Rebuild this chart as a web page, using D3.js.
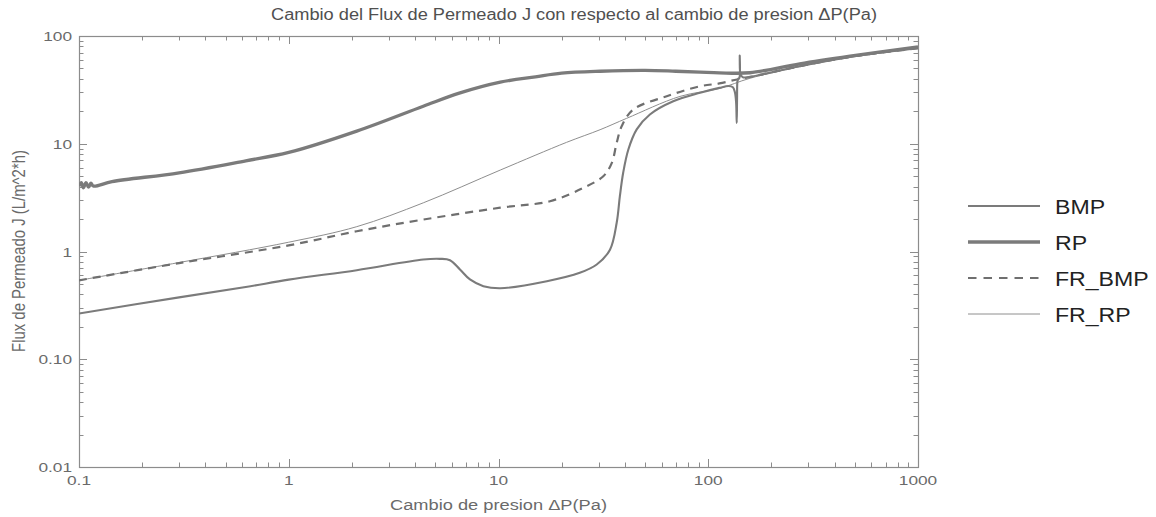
<!DOCTYPE html>
<html><head><meta charset="utf-8">
<script src="https://cdnjs.cloudflare.com/ajax/libs/d3/7.8.5/d3.min.js"></script>
<style>body{margin:0;background:#fff}svg{display:block}text{font-family:"Liberation Sans",Arial,sans-serif}</style>
</head><body>
<script>
// ---------- data ----------
const BMP = [[0.1,0.266],[0.3,0.375],[0.624,0.468],[1.0,0.548],[2.11,0.671],[4.38,0.843],[5.26,0.855],[5.87,0.83],[6.55,0.681],[7.31,0.55],[8.47,0.477],[10.2,0.456],[17.0,0.53],[24.4,0.634],[29.4,0.757],[34.0,1.04],[36.6,1.85],[37.9,3.26],[39.3,5.38],[41.6,8.85],[45.6,13.6],[52.7,18.7],[68.1,24.8],[91.4,29.7],[113,33.0],[125,34.3],[131,33.5],[134,30],[135.8,24],[136.7,15.6],[137.2,26],[137.8,38],[139,40],[140.8,41],[141.3,66],[141.8,47],[143.5,43],[147,41.3],[158,41.8],[273,52.4],[474,64],[1000,77]];
const RP = [[0.1,4.05],[0.1025,4.35],[0.105,3.9],[0.108,4.35],[0.111,3.95],[0.114,4.3],[0.117,4.05],[0.1436,4.45],[0.3,5.38],[0.624,6.95],[1.0,8.3],[2.11,13.1],[4.38,22.3],[6.5,29.5],[10.2,37.3],[15,41.8],[20,45.2],[30.5,47.1],[50,48.0],[70,47.1],[91.4,46.2],[113,45.5],[158,45.6],[273,55.2],[474,65],[1000,79.4]];
const FR_BMP = [[0.1,0.54],[0.3,0.78],[1.0,1.14],[2.11,1.54],[4.38,1.98],[10.2,2.55],[17.6,2.93],[25.4,3.9],[31.6,5.0],[34.7,6.65],[36.6,10.2],[38.7,14.6],[43.9,20.8],[63.4,27.6],[91.4,34.2],[113,36.3],[137,39.5],[158,41.6],[273,52.4],[474,64],[1000,77]];
const FR_RP = [[0.1,0.54],[0.3,0.79],[1.0,1.22],[2.11,1.7],[4.38,2.83],[10.2,5.7],[21.1,10.3],[30.5,13.5],[40.8,17.2],[73.3,27.5],[113,32.6],[158,40.5],[273,52],[474,63.5],[1000,77]];
const seriesNames = ["BMP","RP","FR_BMP","FR_RP"];
const xTickValues = [0.1,1,10,100,1000];
const xTickLabels = ["0.1","1","10","100","1000"];
const yTickValues = [0.01,0.1,1,10,100];
const yTickLabels = ["0.01","0.10","1","10","100"];
const titleText = "Cambio del Flux de Permeado J con respecto al cambio de presion \u0394P(Pa)";
const xLabelText = "Cambio de presion \u0394P(Pa)";
const yLabelText = "Flux de Permeado J (L/m^2*h)";

// ---------- layout ----------
const W = 1156, H = 517;
const L = 79, R = 918, T = 36, B = 467;
const svg = d3.select("body").append("svg").attr("width", W).attr("height", H);
const x = d3.scaleLog().domain([0.1, 1000]).range([L, R]);
const y = d3.scaleLog().domain([0.01, 100]).range([B, T]);

const frameColor = "#8c8c8c";
const g = svg.append("g");

function minors(domain) {
  const out = [];
  for (let d = domain[0]; d < domain[1] * 0.999; d *= 10) for (let k = 2; k <= 9; k++) out.push(d * k);
  return out;
}
const xMinor = minors([0.1, 1000]), yMinor = minors([0.01, 100]);
const tickG = g.append("g").attr("stroke", frameColor).attr("stroke-width", 1);
xTickValues.forEach(v => {
  const px = Math.round(x(v)) + 0.5;
  tickG.append("line").attr("x1", px).attr("x2", px).attr("y1", B).attr("y2", B - 8);
  tickG.append("line").attr("x1", px).attr("x2", px).attr("y1", T).attr("y2", T + 8);
});
xMinor.forEach(v => {
  const px = Math.round(x(v)) + 0.5;
  tickG.append("line").attr("x1", px).attr("x2", px).attr("y1", B).attr("y2", B - 4.5);
  tickG.append("line").attr("x1", px).attr("x2", px).attr("y1", T).attr("y2", T + 4.5);
});
yTickValues.forEach(v => {
  const py = Math.round(y(v)) + 0.5;
  tickG.append("line").attr("x1", L).attr("x2", L + 8).attr("y1", py).attr("y2", py);
  tickG.append("line").attr("x1", R).attr("x2", R - 8).attr("y1", py).attr("y2", py);
});
yMinor.forEach(v => {
  const py = Math.round(y(v)) + 0.5;
  tickG.append("line").attr("x1", L).attr("x2", L + 4.5).attr("y1", py).attr("y2", py);
  tickG.append("line").attr("x1", R).attr("x2", R - 4.5).attr("y1", py).attr("y2", py);
});
g.append("rect").attr("x", L + 0.5).attr("y", T + 0.5).attr("width", R - L).attr("height", B - T)
  .attr("fill", "none").attr("stroke", frameColor).attr("stroke-width", 1.2);

const SX = 1.28;
function htext(px, py, str, size, anchor, fill) {
  return svg.append("text").attr("transform", `translate(${px},${py}) scale(${SX},1)`)
    .attr("text-anchor", anchor).attr("font-size", size).attr("fill", fill).text(str);
}
xTickValues.forEach((v, i) => htext(x(v), 485, xTickLabels[i], 13.5, "middle", "#6a6a6a"));
yTickValues.forEach((v, i) => htext(72, y(v) + 5, yTickLabels[i], 13.5, "end", "#6a6a6a"));

svg.append("text").attr("x", 271).attr("y", 19.5).attr("font-size", 16).attr("fill", "#505050")
  .attr("textLength", 606).attr("lengthAdjust", "spacingAndGlyphs").text(titleText);
svg.append("text").attr("x", 390).attr("y", 509.5).attr("font-size", 14).attr("fill", "#6a6a6a")
  .attr("textLength", 217).attr("lengthAdjust", "spacingAndGlyphs").text(xLabelText);
svg.append("text").attr("transform", "translate(25,251) rotate(-90) scale(1,1.25)")
  .attr("text-anchor", "middle").attr("font-size", 14).attr("fill", "#6a6a6a")
  .attr("textLength", 202).attr("lengthAdjust", "spacingAndGlyphs").text(yLabelText);

svg.append("clipPath").attr("id", "clip").append("rect").attr("x", L).attr("y", T).attr("width", R - L).attr("height", B - T);
const plot = svg.append("g").attr("clip-path", "url(#clip)");

const line = d3.line().x(d => x(d[0])).y(d => y(d[1])).curve(d3.curveCatmullRom.alpha(0.5));
const styles = {
  BMP:    {data: BMP,    color: "#7b7b7b", width: 2.1, dash: null},
  RP:     {data: RP,     color: "#7b7b7b", width: 3.3, dash: null},
  FR_BMP: {data: FR_BMP, color: "#6f6f6f", width: 2.2, dash: "8,6"},
  FR_RP:  {data: FR_RP,  color: "#8e8e8e", width: 1.0, dash: null}
};
["FR_RP", "FR_BMP", "BMP", "RP"].forEach(k => {
  const s = styles[k];
  plot.append("path").attr("d", line(s.data)).attr("fill", "none")
    .attr("stroke", s.color).attr("stroke-width", s.width)
    .attr("stroke-dasharray", s.dash).attr("stroke-linejoin", "round");
});

const legY = [206, 242, 278, 314];
seriesNames.forEach((k, i) => {
  const s = styles[k];
  svg.append("line").attr("x1", 968).attr("x2", 1040).attr("y1", legY[i]).attr("y2", legY[i])
    .attr("stroke", s.color).attr("stroke-width", s.width).attr("stroke-dasharray", s.dash ? "8.5,7" : null);
  svg.append("text").attr("transform", `translate(1055,${legY[i] + 7.5}) scale(1.1,1)`)
    .attr("font-size", 21).attr("fill", "#222").text(k);
});
</script>
</body></html>
